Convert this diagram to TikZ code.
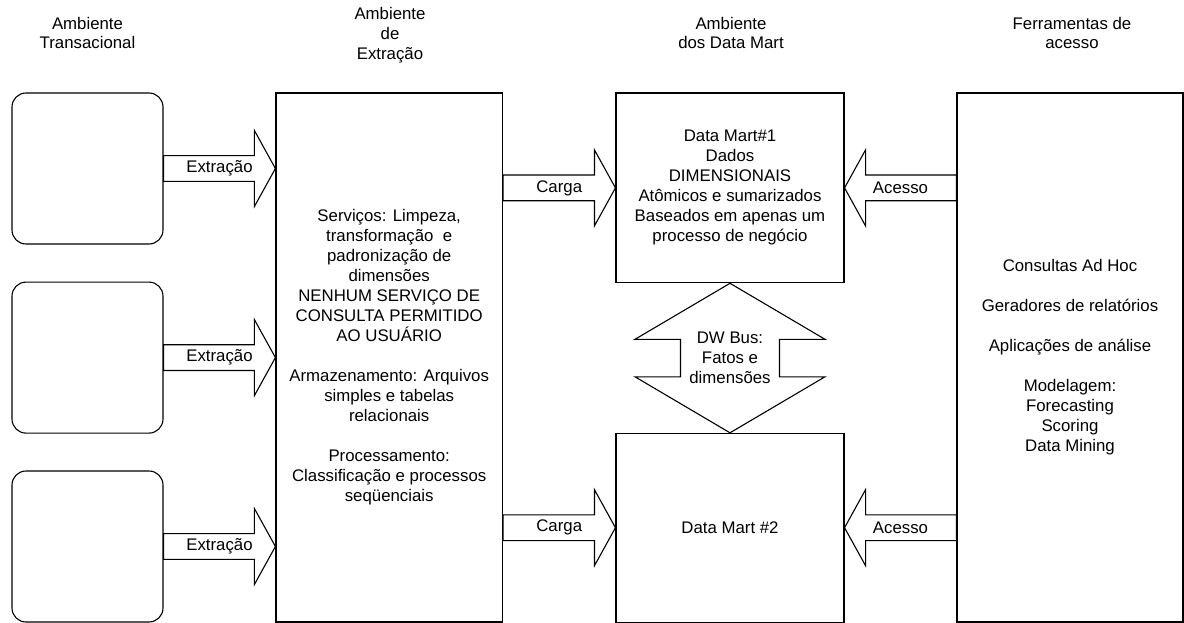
\documentclass[tikz,border=0pt]{standalone}
\usepackage{fontspec}
\setmainfont{Liberation Sans}
\usetikzlibrary{calc}

% Horizontal block arrow: #1 tail, #2 tip (same height), #3 label name, #4 label text
\newcommand\hblockarrow[4]{%
  \draw[blockarrow] let \p1=(#1), \p2=(#2), \p3=($(#2)!21pt!(#1)$) in
    (\x1,\y2+12.85pt) -- (\x3,\y2+12.85pt) -- (\x3,\y2+38pt) -- (\p2)
    -- (\x3,\y2-38pt) -- (\x3,\y2-12.85pt) -- (\x1,\y2-12.85pt) -- cycle;
  \node[arrowlabel] (#3) at ($(#1)!0.5!(#2)$) {#4};
}

\begin{document}
\begin{tikzpicture}[x=1pt,y=-1pt,
  every node/.style={font=\fontsize{16.8}{20}\selectfont, inner sep=0pt, align=center},
  panel/.style={draw=black, line width=1.1pt},
  source/.style={panel, rounded corners=14pt, minimum width=151pt, minimum height=151pt},
  header/.style={font=\fontsize{16.8}{19.8}\selectfont},
  arrowlabel/.style={},
  blockarrow/.style={draw=black, line width=1.1pt, line join=miter}]

\useasboundingbox (0,0) rectangle (1184,623);

% column headers
\node[header] (h1) at (87.5,33) {Ambiente\\Transacional};
\node[header] (h2) at (390,35) {Ambiente\\de\\Extração};
\node[header] (h3) at (731,33) {Ambiente\\dos Data Mart};
\node[header] (h4) at (1072,33) {Ferramentas de\\acesso};

% transactional sources
\node[source] (src1) at (87.5,168.5) {};
\node[source] (src2) at (87.5,357.6) {};
\node[source] (src3) at (87.5,546.5) {};

% staging area
\node[panel, minimum width=226.5pt, minimum height=529pt] (ext) at (389.2,357.5)
  {Serviços: Limpeza,\\transformação\ \ e\\padronização de\\dimensões\\
   NENHUM SERVIÇO DE\\CONSULTA PERMITIDO\\AO USUÁRIO\\[20pt]
   Armazenamento: Arquivos\\simples e tabelas\\relacionais\\[20pt]
   Processamento:\\Classificação e processos\\seqüenciais};

% data marts
\node[panel, minimum width=228pt, minimum height=189.7pt] (dm1) at (730,187.9)
  {Data Mart\#1\\Dados\\DIMENSIONAIS\\Atômicos e sumarizados\\Baseados em apenas um\\processo de negócio};
\node[panel, minimum width=228pt, minimum height=188.7pt] (dm2) at (730,527.7)
  {Data Mart \#2};

% access tools
\node[panel, minimum width=226pt, minimum height=529pt] (tools) at (1070,357.5)
  {Consultas Ad Hoc\\[20pt]Geradores de relatórios\\[20pt]Aplicações de análise\\[20pt]
   Modelagem:\\Forecasting\\Scoring\\Data Mining};

% extraction flows
\hblockarrow{src1.east}{ext.west |- src1.east}{x1}{Extração}
\hblockarrow{src2.east}{ext.west |- src2.east}{x2}{Extração}
\hblockarrow{src3.east}{ext.west |- src3.east}{x3}{Extração}

% loading flows
\hblockarrow{ext.east |- dm1.west}{dm1.west}{c1}{Carga}
\hblockarrow{ext.east |- dm2.west}{dm2.west}{c2}{Carga}

% access flows
\hblockarrow{tools.west |- dm1.east}{dm1.east}{a1}{Acesso}
\hblockarrow{tools.west |- dm2.east}{dm2.east}{a2}{Acesso}

% data warehouse bus between the marts
\draw[blockarrow] let \p1=(dm1.south), \p2=(dm2.north) in
  (\p1) -- (\x1+95pt,\y1-56pt) -- (\x1+49.5pt,\y1-56pt) -- (\x1+49.5pt,\y2+56pt)
  -- (\x1+95pt,\y2+56pt) -- (\p2) -- (\x1-95pt,\y2+56pt) -- (\x1-49.5pt,\y2+56pt)
  -- (\x1-49.5pt,\y1-56pt) -- (\x1-95pt,\y1-56pt) -- cycle;
\node (bus) at ($(dm1.south)!0.5!(dm2.north)$) {DW Bus:\\Fatos e\\dimensões};

\end{tikzpicture}
\end{document}
